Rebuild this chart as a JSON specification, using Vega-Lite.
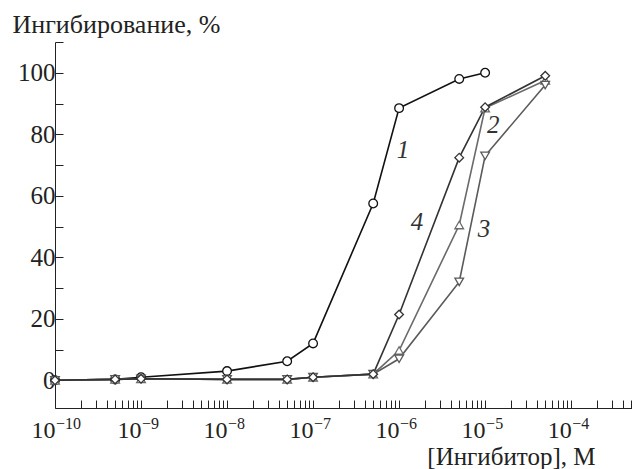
{
  "$schema": "https://vega.github.io/schema/vega-lite/v6.json",
  "width": 577,
  "height": 366,
  "autosize": {"type": "none"},
  "padding": {"left": 55, "top": 42, "right": 0, "bottom": 61},
  "background": "white",
  "config": {
    "view": {"stroke": null},
    "font": "Liberation Serif",
    "text": {"font": "Liberation Serif"},
    "axis": {"grid": false, "labelFont": "Liberation Serif", "titleFont": "Liberation Serif", "labelColor": "#222", "titleColor": "#222", "domainColor": "#222", "tickColor": "#222", "labelFontSize": 25, "titleFontSize": 26, "titleFontWeight": "normal"}
  },
  "datasets": {
    "curves": [
      {"series": "1", "conc": 1e-10, "inh": 0},
      {"series": "1", "conc": 5e-10, "inh": 0.3},
      {"series": "1", "conc": 1e-9, "inh": 1},
      {"series": "1", "conc": 1e-8, "inh": 3},
      {"series": "1", "conc": 5e-8, "inh": 6.2},
      {"series": "1", "conc": 1e-7, "inh": 12},
      {"series": "1", "conc": 5e-7, "inh": 57.5},
      {"series": "1", "conc": 1e-6, "inh": 88.5},
      {"series": "1", "conc": 5e-6, "inh": 98},
      {"series": "1", "conc": 1e-5, "inh": 100},
      {"series": "2", "conc": 1e-10, "inh": 0},
      {"series": "2", "conc": 5e-10, "inh": 0.3},
      {"series": "2", "conc": 1e-9, "inh": 0.5},
      {"series": "2", "conc": 1e-8, "inh": 0.3},
      {"series": "2", "conc": 5e-8, "inh": 0.3},
      {"series": "2", "conc": 1e-7, "inh": 1},
      {"series": "2", "conc": 5e-7, "inh": 2},
      {"series": "2", "conc": 1e-6, "inh": 9.7},
      {"series": "2", "conc": 5e-6, "inh": 50.5},
      {"series": "2", "conc": 1e-5, "inh": 88.5},
      {"series": "2", "conc": 5e-5, "inh": 97.5},
      {"series": "3", "conc": 1e-10, "inh": 0},
      {"series": "3", "conc": 5e-10, "inh": 0.3},
      {"series": "3", "conc": 1e-9, "inh": 0.5},
      {"series": "3", "conc": 1e-8, "inh": 0.3},
      {"series": "3", "conc": 5e-8, "inh": 0.3},
      {"series": "3", "conc": 1e-7, "inh": 1},
      {"series": "3", "conc": 5e-7, "inh": 2},
      {"series": "3", "conc": 1e-6, "inh": 7},
      {"series": "3", "conc": 5e-6, "inh": 32},
      {"series": "3", "conc": 1e-5, "inh": 73},
      {"series": "3", "conc": 5e-5, "inh": 96},
      {"series": "4", "conc": 1e-10, "inh": 0},
      {"series": "4", "conc": 5e-10, "inh": 0.3},
      {"series": "4", "conc": 1e-9, "inh": 0.5},
      {"series": "4", "conc": 1e-8, "inh": 0.3},
      {"series": "4", "conc": 5e-8, "inh": 0.3},
      {"series": "4", "conc": 1e-7, "inh": 1},
      {"series": "4", "conc": 5e-7, "inh": 2},
      {"series": "4", "conc": 1e-6, "inh": 21.4},
      {"series": "4", "conc": 5e-6, "inh": 72.4},
      {"series": "4", "conc": 1e-5, "inh": 88.8},
      {"series": "4", "conc": 5e-5, "inh": 99}
    ],
    "labels": [
      {"series": "1", "conc": 1.11e-6, "inh": 75},
      {"series": "2", "conc": 1.24e-5, "inh": 83},
      {"series": "3", "conc": 9.7e-6, "inh": 49.2},
      {"series": "4", "conc": 1.62e-6, "inh": 51.5}
    ],
    "decades": [
      {"conc": 1e-10, "exp": "−10"},
      {"conc": 1e-9, "exp": "−9"},
      {"conc": 1e-8, "exp": "−8"},
      {"conc": 1e-7, "exp": "−7"},
      {"conc": 1e-6, "exp": "−6"},
      {"conc": 1e-5, "exp": "−5"},
      {"conc": 1e-4, "exp": "−4"}
    ]
  },
  "resolve": {"axis": {"x": "independent", "y": "independent"}},
  "layer": [
    {
      "data": {"name": "curves"},
      "mark": {"type": "line", "strokeWidth": 1.6},
      "encoding": {
        "x": {"field": "conc", "type": "quantitative",
          "scale": {"type": "log", "domain": [1e-10, 5.1e-4], "nice": false},
          "axis": {"orient": "bottom", "values": [1e-10, 1e-9, 1e-8, 1e-7, 1e-6, 1e-5, 1e-4], "tickSize": -8, "labelPadding": 37,
            "labelExpr": "'10'", "labelAlign": "right", "labelDx": -1, "labelBaseline": "alphabetic", "labelFontSize": 24,
            "labelFlush": false, "labelOverlap": false,
            "title": "[Ингибитор], М", "titleX": 540, "titleY": 56, "titleAlign": "right", "titleBaseline": "alphabetic", "titleAnchor": null, "titleFontSize": 25}},
        "y": {"field": "inh", "type": "quantitative",
          "scale": {"domain": [-9, 110], "nice": false, "zero": false},
          "axis": {"orient": "left", "values": [0, 20, 40, 60, 80, 100], "tickSize": -8, "labelPadding": 8,
            "title": "Ингибирование, %", "titleAngle": 0, "titleX": -43, "titleY": -10, "titleAlign": "left", "titleBaseline": "alphabetic", "titleAnchor": null}},
        "stroke": {"field": "series", "type": "nominal", "legend": null,
          "scale": {"domain": ["1", "2", "3", "4"], "range": ["#111111", "#6a6a6a", "#5a5a5a", "#333333"]}},
        "detail": {"field": "series"}
      }
    },
    {
      "data": {"name": "curves"},
      "mark": {"type": "point", "filled": true, "fill": "white", "fillOpacity": 1, "strokeWidth": 1.3, "size": 75},
      "encoding": {
        "x": {"field": "conc", "type": "quantitative",
          "axis": {"orient": "bottom", "values": [2e-10,3e-10,4e-10,5e-10,6e-10,7e-10,8e-10,9e-10,2e-9,3e-9,4e-9,5e-9,6e-9,7e-9,8e-9,9e-9,2e-8,3e-8,4e-8,5e-8,6e-8,7e-8,8e-8,9e-8,2e-7,3e-7,4e-7,5e-7,6e-7,7e-7,8e-7,9e-7,2e-6,3e-6,4e-6,5e-6,6e-6,7e-6,8e-6,9e-6,2e-5,3e-5,4e-5,5e-5,6e-5,7e-5,8e-5,9e-5,2e-4,3e-4,4e-4,5e-4], "tickSize": -8, "labels": false, "domain": false, "title": null}},
        "y": {"field": "inh", "type": "quantitative",
          "axis": {"orient": "left", "values": [10, 30, 50, 70, 90, 110], "tickSize": -8, "labels": false, "domain": false, "title": null}},
        "stroke": {"field": "series", "type": "nominal", "legend": null},
        "shape": {"field": "series", "type": "nominal", "legend": null,
          "scale": {"domain": ["1", "2", "3", "4"], "range": ["circle", "triangle-up", "triangle-down", "diamond"]}}
      }
    },
    {
      "data": {"name": "labels"},
      "mark": {"type": "text", "font": "Liberation Serif", "fontStyle": "italic", "fontSize": 25, "align": "center", "baseline": "middle", "color": "#333"},
      "encoding": {
        "x": {"field": "conc", "type": "quantitative", "axis": null},
        "y": {"field": "inh", "type": "quantitative", "axis": null},
        "text": {"field": "series"}
      }
    },
    {
      "data": {"name": "decades"},
      "mark": {"type": "text", "font": "Liberation Serif", "fontSize": 16, "align": "left", "baseline": "alphabetic", "dx": 1, "dy": 21, "color": "#222"},
      "encoding": {
        "x": {"field": "conc", "type": "quantitative", "axis": null},
        "y": {"datum": -9, "type": "quantitative", "axis": null},
        "text": {"field": "exp"}
      }
    }
  ]
}
